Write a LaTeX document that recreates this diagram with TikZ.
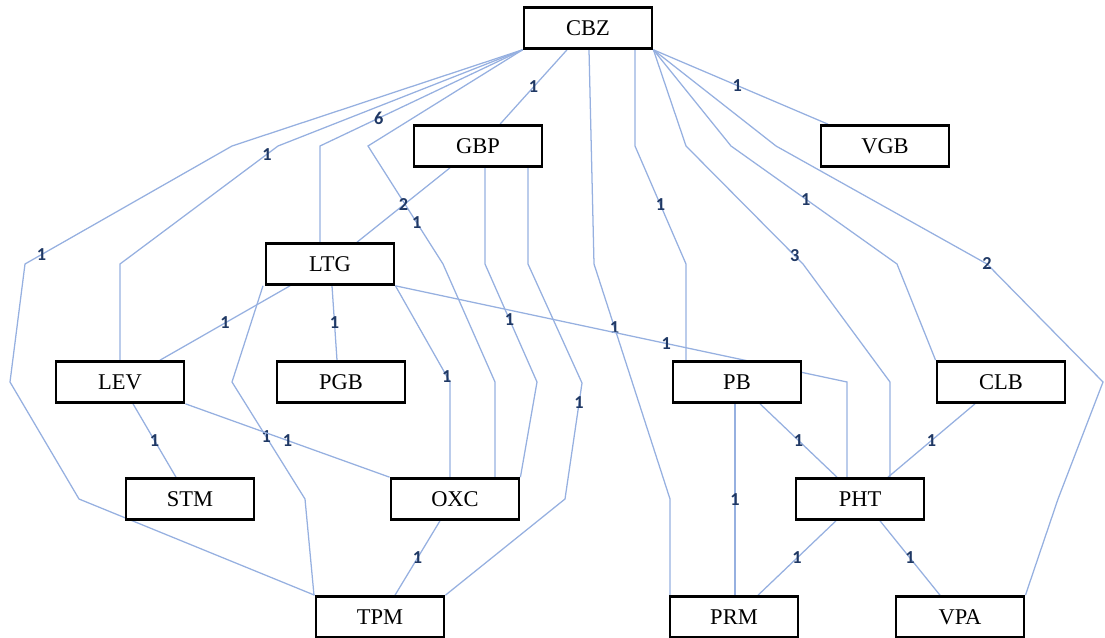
\documentclass[tikz,border=0pt]{standalone}
\usepackage{fontspec}
\setmainfont{Liberation Serif}
\newfontfamily\numfont{Carlito}
\usetikzlibrary{backgrounds}
\definecolor{linkblue}{RGB}{150,176,224}
\definecolor{numblue}{RGB}{31,56,100}

\begin{document}
\begin{tikzpicture}[x=0.025cm,y=-0.025cm,
    box/.style={draw,line width=2pt,fill=white,minimum width=3.2cm,minimum height=1.02cm,
      inner sep=0pt,font=\fontsize{16}{18}\selectfont},
    link/.style={linkblue,line width=0.9pt},
    lbl/.style={text=numblue,inner sep=0pt,font=\numfont\bfseries\fontsize{13}{14}\selectfont}]
  \useasboundingbox (0,0) rectangle (1105,638);

  % boxes, row by row
  \node[box] (cbz) at (588,28) {CBZ};
  \node[box] (gbp) at (478,146) {GBP};
  \node[box] (vgb) at (885,146) {VGB};
  \node[box] (ltg) at (330,264) {LTG};
  \node[box] (lev) at (120,382) {LEV};
  \node[box] (pgb) at (341,382) {PGB};
  \node[box] (pb)  at (737,382) {PB};
  \node[box] (clb) at (1001,382) {CLB};
  \node[box] (stm) at (190,499) {STM};
  \node[box] (oxc) at (455,499) {OXC};
  \node[box] (pht) at (860,499) {PHT};
  \node[box] (tpm) at (380,617) {TPM};
  \node[box] (prm) at (734,617) {PRM};
  \node[box] (vpa) at (960,617) {VPA};

  \begin{scope}[on background layer]
    % from CBZ
    \draw[link] (cbz.south west) -- (232,146) -- node[lbl,pos=0.92]{1} (25,264) -- (10,382) -- (79,499) -- (tpm.north west);
    \draw[link] (cbz.south west) -- (278,146) -- node[lbl,pos=0.07]{1} (120,264) -- (lev.north);
    \draw[link] (cbz.south west) -- node[lbl,pos=0.71]{6} (320,146) -- (320,0 |- ltg.north);
    \draw[link] (cbz.south west) -- (368,146) -- node[lbl,pos=0.65]{1} (443,264) -- (495,382) -- (495,0 |- oxc.north);
    \draw[link] (567,0 |- cbz.south) -- node[lbl]{1} (500,0 |- gbp.north);
    \draw[link] (589,0 |- cbz.south) -- (594,264) -- node[lbl,pos=0.27]{1} (670,499) -- (670,0 |- prm.north);
    \draw[link] (635,0 |- cbz.south) -- (635,146) -- node[lbl]{1} (686,264) -- (686,0 |- pb.north);
    \draw[link] (cbz.south east) -- node[lbl,pos=0.48]{1} (828,0 |- vgb.north);
    \draw[link] (cbz.south east) -- (686,146) -- node[lbl,pos=0.93]{3} (803,264) -- (890,382) -- (890,0 |- pht.north);
    \draw[link] (cbz.south east) -- (731,146) -- node[lbl,pos=0.45]{1} (897,264) -- (clb.north west);
    \draw[link] (cbz.south east) -- (776,146) -- (987,264) node[lbl]{2} -- (1103,382) -- (1058,499) -- (vpa.north east);
    % from GBP
    \draw[link] (450,0 |- gbp.south) -- node[lbl]{2} (357,0 |- ltg.north);
    \draw[link] (485,0 |- gbp.south) -- (485,264) -- node[lbl,pos=0.47]{1} (537,382) -- (oxc.north east);
    \draw[link] (528,0 |- gbp.south) -- (528,264) -- (582,383) -- node[lbl,pos=0.17]{1} (565,499) -- (tpm.north east);
    % from LTG
    \draw[link] (290,0 |- ltg.south) -- node[lbl]{1} (160,0 |- lev.north);
    \draw[link] (263,0 |- ltg.south) -- (232,382) -- node[lbl,pos=0.47]{1} (305,499) -- (314,0 |- tpm.north);
    \draw[link] (332,0 |- ltg.south) -- node[lbl]{1} (337,0 |- pgb.north);
    \draw[link] (ltg.south east) -- node[lbl,pos=0.94]{1} (450,382) -- (450,0 |- oxc.north);
    \draw[link] (ltg.south east) -- node[lbl,pos=0.6]{1} (847,382) -- (847,0 |- pht.north);
    % lower rows
    \draw[link] (133,0 |- lev.south) -- node[lbl]{1} (176,0 |- stm.north);
    \draw[link] (lev.south east) -- node[lbl]{1} (oxc.north west);
    \draw[link] (440,0 |- oxc.south) -- node[lbl]{1} (395,0 |- tpm.north);
    \draw[link] (735,0 |- pb.south) -- node[lbl]{1} (735,0 |- prm.north);
    \draw[link] (760,0 |- pb.south) -- node[lbl]{1} (837,0 |- pht.north);
    \draw[link] (975,0 |- clb.south) -- node[lbl]{1} (888,0 |- pht.north);
    \draw[link] (836,0 |- pht.south) -- node[lbl]{1} (758,0 |- prm.north);
    \draw[link] (880,0 |- pht.south) -- node[lbl]{1} (940,0 |- vpa.north);
  \end{scope}
\end{tikzpicture}
\end{document}
